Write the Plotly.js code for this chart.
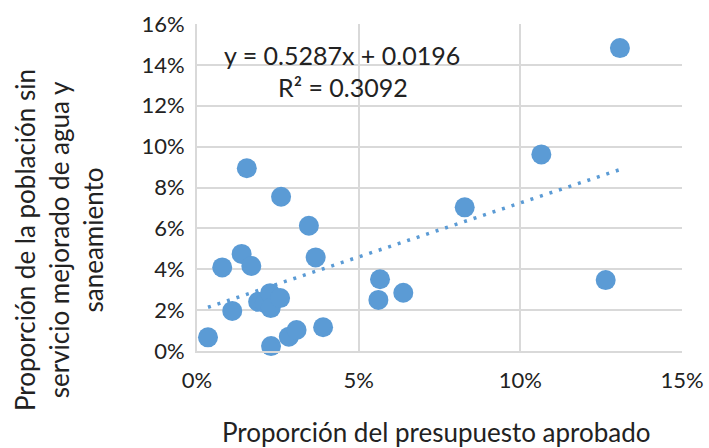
<!DOCTYPE html>
<html>
<head>
<meta charset="utf-8">
<script src="https://cdn.plot.ly/plotly-3.0.1.min.js"></script>
<style>
  html, body { margin: 0; padding: 0; background: #ffffff; }
  #chart { width: 709px; height: 448px; }
</style>
</head>
<body>
<div id="chart"></div>
<script>
// Share of approved budget (x) vs. share of population without improved water & sanitation (y)
const budgetShare = [
  0.0034, 0.0078, 0.0109, 0.0138, 0.0154, 0.0168, 0.0189, 0.0210, 0.0226,
  0.0228, 0.0229, 0.0257, 0.0260, 0.0284, 0.0308, 0.0346, 0.0367, 0.0390,
  0.0566, 0.0561, 0.0638, 0.0828, 0.1065, 0.1264, 0.1308
];
const unservedShare = [
  0.0067, 0.0409, 0.0196, 0.0475, 0.0894, 0.0416, 0.0241, 0.0235, 0.0283,
  0.0210, 0.0024, 0.0259, 0.0755, 0.0070, 0.0103, 0.0613, 0.0458, 0.0116,
  0.0351, 0.0250, 0.0285, 0.0703, 0.0962, 0.0347, 0.1482
];

// Linear trendline coefficients
const slope = 0.5287;
const intercept = 0.0196;
const rSquared = 0.3092;

const xTickVals = [0, 0.05, 0.10, 0.15];
const yTickVals = [0, 0.02, 0.04, 0.06, 0.08, 0.10, 0.12, 0.14, 0.16];

const xTitle = 'Proporción del presupuesto aprobado';
const yTitle = 'Proporción de la población sin<br>servicio mejorado de agua y<br>saneamiento';

const xMin = Math.min(...budgetShare);
const xMax = Math.max(...budgetShare);
const trendX = [xMin, xMax];
const trendY = trendX.map(v => slope * v + intercept);

const blue = '#5b9bd5';
const grid = '#d9d9d9';
const fontFamily = 'Lato, "Open Sans", sans-serif';
const textColor = '#222222';

const traces = [
  {
    x: trendX, y: trendY, type: 'scatter', mode: 'lines',
    line: { color: blue, width: 3.5, dash: '3px,7px' },
    hoverinfo: 'skip', cliponaxis: false
  },
  {
    x: budgetShare, y: unservedShare, type: 'scatter', mode: 'markers',
    marker: { color: blue, size: 20, line: { width: 0 } },
    cliponaxis: false
  }
];

// plot box: 197..682 px horizontally, 24..351 px vertically
const plotW = 485, plotH = 327;
const px = v => (v - 197) / plotW;
const py = v => (351 - v) / plotH;

const layout = {
  width: 709, height: 448,
  margin: { l: 197, r: 27, t: 24, b: 97 },
  paper_bgcolor: '#ffffff', plot_bgcolor: '#ffffff',
  showlegend: false,
  font: { family: fontFamily, size: 22, color: textColor },
  xaxis: {
    range: [0, 0.15], tickvals: xTickVals, tickformat: '.0%',
    showgrid: true, gridcolor: grid, gridwidth: 2,
    zeroline: false, showline: true, linecolor: grid, linewidth: 2,
    ticks: '', ticklen: 0, tickfont: { size: 22 }, ticklabelstandoff: 9
  },
  yaxis: {
    range: [0, 0.16], tickvals: yTickVals, tickformat: '.0%',
    showgrid: true, gridcolor: grid, gridwidth: 2,
    zeroline: false, showline: true, linecolor: grid, linewidth: 2,
    ticks: '', ticklen: 0, tickfont: { size: 22 }, ticklabelstandoff: 6
  },
  annotations: [
    {
      xref: 'paper', yref: 'paper', x: px(342), y: py(55),
      xanchor: 'center', yanchor: 'middle', showarrow: false,
      text: 'y = ' + slope.toFixed(4) + 'x + ' + intercept.toFixed(4),
      font: { size: 25, color: textColor }
    },
    {
      xref: 'paper', yref: 'paper', x: px(343), y: py(87),
      xanchor: 'center', yanchor: 'middle', showarrow: false,
      text: 'R² = ' + rSquared.toFixed(4),
      font: { size: 25, color: textColor }
    },
    {
      xref: 'paper', yref: 'paper', x: px(436), y: py(432),
      xanchor: 'center', yanchor: 'middle', showarrow: false,
      text: xTitle, font: { size: 26, color: textColor }
    },
    {
      xref: 'paper', yref: 'paper', x: px(59), y: py(240),
      xanchor: 'center', yanchor: 'middle', showarrow: false,
      textangle: -90, align: 'center',
      text: yTitle, font: { size: 26, color: textColor }
    }
  ]
};

Plotly.newPlot('chart', traces, layout, { staticPlot: true, displayModeBar: false });
</script>
</body>
</html>
